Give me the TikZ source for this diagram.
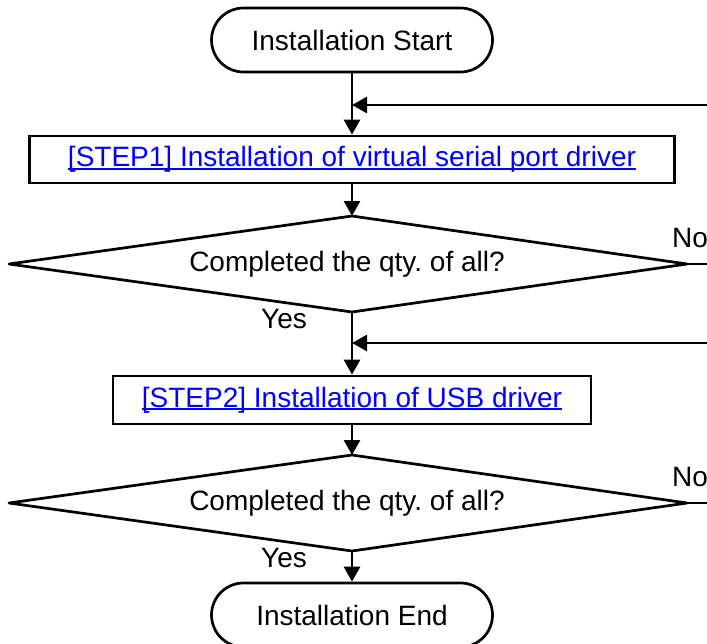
\documentclass[tikz,border=0pt]{standalone}
\usepackage{fontspec}
\setmainfont{Liberation Sans}
\usetikzlibrary{shapes.misc,arrows.meta}
\definecolor{lnkblue}{RGB}{0,0,255}
\newcommand\lnkul[1]{\setbox0=\hbox{#1}\rlap{\rule[-3pt]{\wd0}{2pt}}\box0}
\frenchspacing
\begin{document}
\begin{tikzpicture}[x=1pt,y=-1pt,
  every node/.style={font=\fontsize{28}{34}\selectfont, inner sep=0pt},
  term/.style={rounded rectangle, draw, line width=2.7pt, minimum width=281pt, minimum height=64pt},
  stepbox/.style={rectangle, draw, line width=2.7pt, text=lnkblue},
  decide/.style={draw, line width=2.7pt, line join=round},
  lbl/.style={anchor=base west},
  conn/.style={line width=2.7pt},
  arr/.style={conn, -{Triangle[length=15pt,width=16pt]}}
]
\useasboundingbox (0,0) rectangle (707,643);
\node[term] (start) at (352,40) {Installation Start};
\node[stepbox, minimum width=645pt, minimum height=47pt] (s1) at (352,159.5) {\lnkul{[STEP1] Installation of virtual serial port driver}};
% decision 1
\coordinate (d1t) at (352,216);
\coordinate (d1b) at (352,312);
\coordinate (d1l) at (9,264);
\coordinate (d1r) at (687,264);
\draw[decide] (d1t) -- (d1r) -- (d1b) -- (d1l) -- cycle;
\node (d1) at (347,264) {Completed the qty. of all?};
\node[stepbox, minimum width=478pt, minimum height=48pt] (s2) at (352,400) {\lnkul{[STEP2] Installation of USB driver}};
% decision 2
\coordinate (d2t) at (352,455);
\coordinate (d2b) at (352,551);
\coordinate (d2l) at (9,503);
\coordinate (d2r) at (687,503);
\draw[decide] (d2t) -- (d2r) -- (d2b) -- (d2l) -- cycle;
\node (d2) at (347,503) {Completed the qty. of all?};
\node[term] (end) at (352,615) {Installation End};

\node[lbl] (no1) at (672,247) {No};
\node[lbl] (yes1) at (261,328) {Yes};
\node[lbl] (no2) at (672,486) {No};
\node[lbl] (yes2) at (261,567) {Yes};

\coordinate (in1) at (707,105);
\coordinate (in2) at (707,343);
\coordinate (out1) at (707,264);
\coordinate (out2) at (707,503);

\draw[arr] (start.south) -- (s1.north);
\draw[arr] (in1) -- (start.south |- in1);
\draw[arr] (s1.south) -- (d1t);
\draw[conn] (d1r) -- (out1);
\draw[arr] (d1b) -- (s2.north);
\draw[arr] (in2) -- (d1b |- in2);
\draw[arr] (s2.south) -- (d2t);
\draw[conn] (d2r) -- (out2);
\draw[arr] (d2b) -- (end.north);
\end{tikzpicture}
\end{document}
